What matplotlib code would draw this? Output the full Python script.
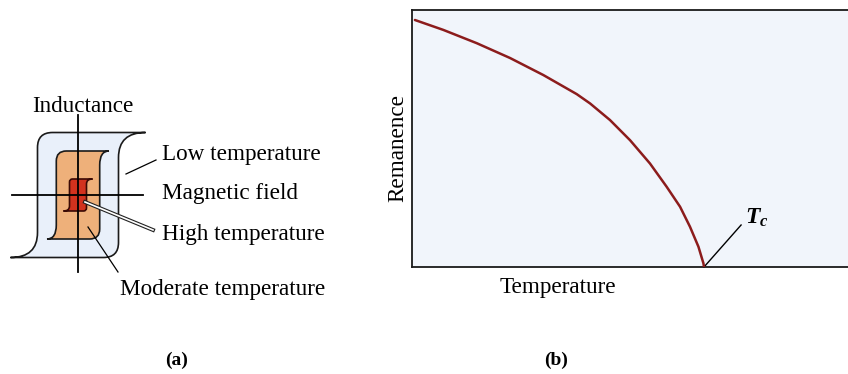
import matplotlib
matplotlib.use("Agg")
import matplotlib.pyplot as plt
from matplotlib.path import Path
from matplotlib.patches import PathPatch
import matplotlib.patheffects as pe

plt.rcParams["font.family"] = ["Liberation Serif", "DejaVu Serif"]
plt.rcParams["mathtext.fontset"] = "custom"
plt.rcParams["mathtext.it"] = "Liberation Serif:italic:bold"
plt.rcParams["mathtext.rm"] = "Liberation Serif:bold"

# (b) remanence vs temperature, temperature in units of Tc
temperature = [0.010, 0.107, 0.222, 0.336, 0.450, 0.564, 0.610, 0.678,
               0.747, 0.815, 0.872, 0.918, 0.952, 0.981, 0.998, 1.0]
remanence = [1.0, 0.960, 0.906, 0.846, 0.777, 0.700, 0.662, 0.595,
             0.513, 0.419, 0.325, 0.244, 0.163, 0.082, 0.015, 0.0]

# (a) hysteresis loops: half width, half height, tail reach, corner, flare
loop_names = ["Low temperature", "Moderate temperature", "High temperature"]
loop_width = [40.5, 21.7, 8.5]
loop_height = [62.5, 44.0, 16.0]
loop_tail = [67.5, 31.0, 14.5]
loop_corner = [15, 10, 3]
loop_flare = [25, 14, 5]
loop_fill = ["#e9f0fa", "#eeb07a", "#d2321e"]
loop_edge = ["#1a1a1a", "#1a1a1a", "#3a0a05"]


def loop_path(w, h, tail, r, flare):
    verts = [(tail, h), (-w + r, h), (-w, h), (-w, h - r),
             (-w, -h + flare), (-w, -h), (-tail, -h),
             (w - r, -h), (w, -h), (w, -h + r),
             (w, h - flare), (w, h), (tail, h)]
    codes = [Path.MOVETO, Path.LINETO, Path.CURVE3, Path.CURVE3,
             Path.LINETO, Path.CURVE3, Path.CURVE3,
             Path.LINETO, Path.CURVE3, Path.CURVE3,
             Path.LINETO, Path.CURVE3, Path.CURVE3]
    return Path(verts, codes)


fig = plt.figure(figsize=(8.48, 3.74), dpi=100)
fig.patch.set_facecolor("white")

# panel (a) drawn in pixel-sized units around the axes crossing
ax_a = fig.add_axes([0, 0, 1, 1])
ax_a.set_xlim(-78, 770)
ax_a.set_ylim(-179, 195)
ax_a.axis("off")

for i in range(len(loop_names)):
    p = loop_path(loop_width[i], loop_height[i], loop_tail[i],
                  loop_corner[i], loop_flare[i])
    ax_a.add_patch(PathPatch(p, facecolor=loop_fill[i], edgecolor=loop_edge[i],
                             lw=1.2, zorder=2 + i))

ax_a.plot([0, 0], [80, -77], color="black", lw=1.3, zorder=6)
ax_a.plot([-66, 65], [0, 0], color="black", lw=1.3, zorder=6)

# leader lines
ax_a.plot([48, 78], [21, 35], color="black", lw=0.9, zorder=6)
ax_a.plot([10, 40], [-32, -77], color="black", lw=0.9, zorder=6)
ax_a.plot([7, 75], [-7, -35], color="white", lw=1.2, zorder=7,
          path_effects=[pe.Stroke(linewidth=2.8, foreground="#222222"), pe.Normal()])

fs = 16.7
ax_a.text(5, 83, "Inductance", ha="center", va="baseline", fontsize=fs)
ax_a.text(84, 35, loop_names[0], ha="left", va="baseline", fontsize=fs)
ax_a.text(84, -4, "Magnetic field", ha="left", va="baseline", fontsize=fs)
ax_a.text(84, -45, loop_names[2], ha="left", va="baseline", fontsize=fs)
ax_a.text(42, -100, loop_names[1], ha="left", va="baseline", fontsize=fs)

# panel (b)
ax_b = fig.add_axes([412 / 848, 107 / 374, 440 / 848, 257 / 374])
ax_b.set_facecolor("#f1f5fb")
ax_b.plot(temperature, remanence, color="#8c1c1c", lw=1.8, zorder=3,
          solid_joinstyle="round", solid_capstyle="round")
ax_b.set_xlim(0, 440 / 292)
ax_b.set_ylim(0, 257 / 247)
ax_b.set_xticks([])
ax_b.set_yticks([])
ax_b.spines["right"].set_visible(False)
for s in ["top", "left", "bottom"]:
    ax_b.spines[s].set_linewidth(1.3)
    ax_b.spines[s].set_color("#1a1a1a")

ax_b.set_xlabel("Temperature", fontsize=fs, va="baseline")
ax_b.xaxis.set_label_coords(145 / 436, -26 / 257)
ax_b.set_ylabel("Remanence", fontsize=fs, va="baseline")
ax_b.yaxis.set_label_coords(-9 / 436, 119 / 257)

ax_b.plot([1.0, 1.127], [0.0, 0.17], color="black", lw=1.0, clip_on=False)
ax_b.text(1.140, 0.2, r"$T_c$", fontsize=17, ha="left", va="center")

fig.text(177 / 848, 1 - 360 / 374, "(a)", ha="center", va="center",
         fontsize=14, fontweight="bold")
fig.text(556 / 848, 1 - 360 / 374, "(b)", ha="center", va="center",
         fontsize=14, fontweight="bold")

fig.savefig("out.png", dpi=100)
